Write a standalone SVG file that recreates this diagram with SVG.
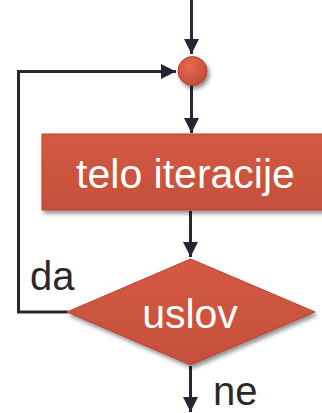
<svg xmlns="http://www.w3.org/2000/svg" width="322" height="413" viewBox="0 0 322 413">
  <style>
    .wire { fill: none; stroke: #262733; stroke-width: 3; }
    .shape { fill: url(#fillGrad); stroke: #b8412e; stroke-width: 1; filter: url(#shadow); }
    .inner { fill: #ffffff; font-family: "Liberation Sans", Arial, sans-serif; text-anchor: middle; }
    .label { fill: #2a2a2a; font-family: "Liberation Sans", Arial, sans-serif; font-size: 40px; }
  </style>
  <defs>
    <linearGradient id="fillGrad" x1="0" y1="0" x2="0" y2="1">
      <stop offset="0" stop-color="#d35a44"/>
      <stop offset="1" stop-color="#c64f3b"/>
    </linearGradient>
    <radialGradient id="ballGrad" cx="0.4" cy="0.35" r="0.7">
      <stop offset="0" stop-color="#e56a50"/>
      <stop offset="1" stop-color="#c24a36"/>
    </radialGradient>
    <filter id="shadow" x="-20%" y="-20%" width="140%" height="150%">
      <feGaussianBlur in="SourceAlpha" stdDeviation="2"/>
      <feOffset dx="2" dy="3" result="b"/>
      <feComponentTransfer><feFuncA type="linear" slope="0.45"/></feComponentTransfer>
      <feMerge><feMergeNode/><feMergeNode in="SourceGraphic"/></feMerge>
    </filter>
    <marker id="arrow" viewBox="0 0 10 10" refX="10" refY="5" markerWidth="15" markerHeight="15" markerUnits="userSpaceOnUse" orient="auto">
      <path d="M0,0 L10,5 L0,10 Z" fill="#262733"/>
    </marker>
  </defs>

  <!-- connectors -->
  <g id="connectors">
    <line class="wire" x1="191.5" y1="0" x2="191.5" y2="54" marker-end="url(#arrow)"/>
    <line class="wire" x1="191.5" y1="85" x2="191.5" y2="133" marker-end="url(#arrow)"/>
    <line class="wire" x1="190.5" y1="211" x2="190.5" y2="257" marker-end="url(#arrow)"/>
    <line class="wire" x1="190.5" y1="366" x2="190.5" y2="412" marker-end="url(#arrow)"/>
    <polyline class="wire" points="68,312 18.5,312 18.5,71.5 176,71.5" marker-end="url(#arrow)"/>
  </g>

  <!-- junction point -->
  <g id="junction">
    <circle cx="192.5" cy="71" r="14.5" fill="url(#ballGrad)" stroke="#b8412e" stroke-width="1" filter="url(#shadow)"/>
  </g>

  <!-- loop body -->
  <g id="body">
    <rect class="shape" x="42" y="134" width="292" height="76"/>
    <text class="inner" x="185.5" y="188" font-size="41">telo iteracije</text>
  </g>

  <!-- condition -->
  <g id="condition">
    <polygon class="shape" points="190.5,259 315,312 190.5,365 67,312"/>
    <text class="inner" x="190" y="328" font-size="41">uslov</text>
  </g>

  <!-- branch labels -->
  <g id="labels">
    <text class="label" x="30" y="290">da</text>
    <text class="label" x="213" y="405">ne</text>
  </g>
</svg>
